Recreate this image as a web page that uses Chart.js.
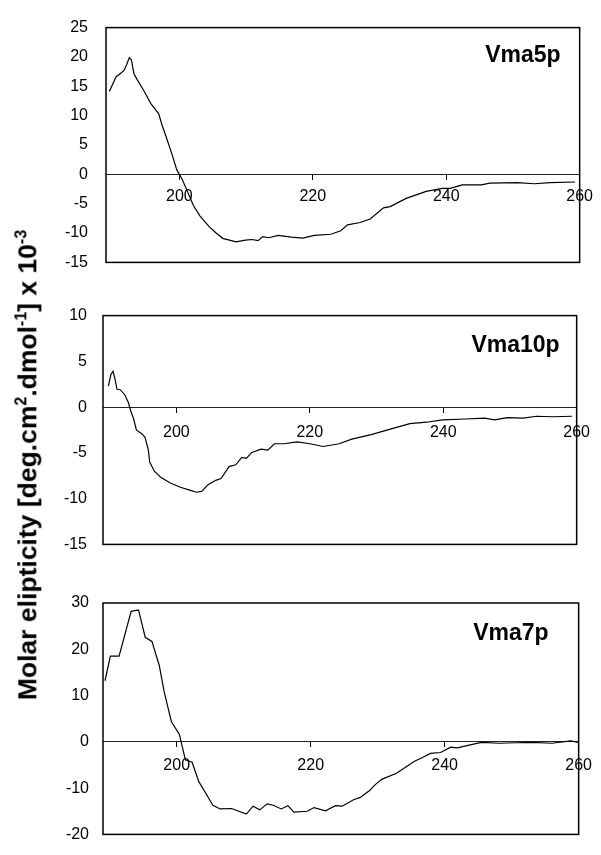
<!DOCTYPE html>
<html lang="en">
<head>
<meta charset="UTF-8">
<title>CD spectra</title>
<script src="https://cdn.jsdelivr.net/npm/chart.js"></script>
<style>
  body { margin: 0; width: 601px; height: 855px; background: #fff; position: relative; overflow: hidden;
         font-family: "Liberation Sans", Arial, sans-serif; }
  .panel { position: absolute; left: 0; width: 601px; }
  #ytitle { position: absolute; left: 27px; top: 465px; transform: translate(-50%, -50%) rotate(-90deg);
            white-space: nowrap; font-weight: bold; font-size: 26.5px; color: #000; line-height: 1; }
  #ytitle sup { font-size: 16px; }
</style>
</head>
<body>
<div class="panel" style="top:0;height:290px"><canvas id="c1"></canvas></div>
<div class="panel" style="top:290px;height:280px"><canvas id="c2"></canvas></div>
<div class="panel" style="top:570px;height:288px"><canvas id="c3"></canvas></div>
<div id="ytitle">Molar elipticity [deg.cm<sup>2</sup>.dmol<sup>-1</sup>] x 10<sup>-3</sup></div>

<script>
// wavelength (nm) and ellipticity
const wl5 = [189.5, 190.5, 191.3, 191.7, 192.1, 192.5, 192.8, 193.2, 193.7, 194.7, 195.7, 196.9, 197.4, 198.1, 198.9, 199.6,
  200.4, 201.2, 202.1, 203.1, 204.5, 205.5, 206.5, 208.5, 209.9, 210.9, 211.8, 212.5, 213.4, 214.8, 216.8, 218.5,
  220.2, 222.7, 224.2, 225.2, 227.1, 228.6, 230.6, 231.6, 234.0, 237.0, 239.4, 240.6, 242.4, 245.3, 246.5, 250.7,
  253.2, 255.6, 259.3];
const cd5 = [14.1, 16.6, 17.3, 17.7, 18.7, 19.9, 19.5, 17.1, 16.1, 14.2, 12.1, 10.3, 8.4, 6.1, 3.4, 0.8,
  -0.8, -2.9, -5.3, -7.1, -8.95, -10.0, -10.9, -11.5, -11.2, -11.1, -11.3, -10.6, -10.8, -10.4, -10.7, -10.85,
  -10.4, -10.2, -9.6, -8.6, -8.2, -7.6, -5.7, -5.5, -4.1, -2.9, -2.4, -2.4, -1.8, -1.8, -1.5, -1.4,
  -1.6, -1.4, -1.3];

const wl10 = [189.8, 190.2, 190.5, 190.8, 191.1, 191.6, 192.3, 192.8, 193.2, 193.6, 194.0, 194.8, 195.3, 195.8, 196.0, 196.7,
  197.7, 199.1, 200.6, 202.1, 203.0, 203.8, 204.7, 205.9, 206.7, 207.9, 208.9, 209.8, 210.5, 211.3, 212.7, 213.7,
  214.7, 216.1, 218.1, 220.0, 222.0, 224.4, 226.3, 229.2, 232.6, 235.0, 237.5, 239.9, 243.3, 246.2, 247.7, 249.6,
  252.0, 254.0, 256.4, 259.3];
const cd10 = [2.3, 3.6, 3.9, 3.05, 1.95, 1.9, 1.3, 0.5, -0.5, -1.3, -2.5, -2.9, -3.3, -4.7, -6.0, -7.0,
  -7.7, -8.3, -8.75, -9.1, -9.3, -9.2, -8.5, -8.0, -7.8, -6.5, -6.3, -5.5, -5.6, -4.95, -4.6, -4.7,
  -4.0, -4.0, -3.8, -4.0, -4.3, -4.0, -3.5, -3.0, -2.3, -1.8, -1.65, -1.4, -1.3, -1.2, -1.4, -1.15,
  -1.2, -1.0, -1.05, -1.0];

const wl7 = [189.3, 190.1, 191.4, 193.2, 194.3, 195.3, 196.3, 197.4, 198.1, 199.2, 200.4, 201.3, 202.3, 203.3, 204.3, 205.4,
  206.5, 208.2, 210.4, 211.4, 212.4, 213.5, 214.4, 215.6, 216.6, 217.5, 219.5, 220.5, 222.2, 223.7, 224.7, 226.4,
  227.4, 228.8, 229.6, 230.6, 232.8, 235.5, 236.7, 237.9, 239.4, 240.9, 241.9, 244.3, 245.5, 248.2, 250.7, 253.1,
  256.0, 258.8, 260.0];
const cd7 = [13.2, 18.5, 18.5, 28.2, 28.5, 22.6, 21.7, 16.5, 11.0, 4.4, 1.6, -3.9, -4.4, -8.6, -11.0, -13.7,
  -14.5, -14.4, -15.6, -13.9, -14.7, -13.4, -13.7, -14.5, -13.8, -15.2, -15.0, -14.2, -14.9, -13.8, -13.9, -12.5,
  -12.0, -10.5, -9.3, -8.1, -6.8, -4.2, -3.4, -2.5, -2.3, -1.15, -1.3, -0.5, -0.1, -0.3, -0.2, -0.1,
  -0.3, 0.2, -0.1];

const xTicks = [200, 220, 240, 260];
const yTicks5 = [-15, -10, -5, 0, 5, 10, 15, 20, 25];
const yTicks10 = [-15, -10, -5, 0, 5, 10];
const yTicks7 = [-20, -10, 0, 10, 20, 30];

const tickFont = { family: '"Liberation Sans", Arial, sans-serif', size: 16 };

// box around the plot area + protein name in the upper right corner
const framePlugin = {
  id: 'frame',
  afterDraw(chart, args, opts) {
    const { ctx, chartArea: a } = chart;
    ctx.save();
    ctx.strokeStyle = '#000';
    ctx.lineWidth = 1.5;
    ctx.strokeRect(a.left, a.top, a.right - a.left, a.bottom - a.top);
    ctx.fillStyle = '#000';
    ctx.font = 'bold 23px "Liberation Sans", Arial, sans-serif';
    ctx.textAlign = 'right';
    ctx.textBaseline = 'alphabetic';
    ctx.fillText(opts.text, a.right - opts.dx, a.top + opts.dy);
    ctx.restore();
  }
};

function makePanel(id, wl, cd, yTicks, p) {
  new Chart(document.getElementById(id), {
    type: 'line',
    data: {
      datasets: [{
        data: wl.map((x, i) => ({ x: x, y: cd[i] })),
        borderColor: '#000',
        borderWidth: 1.2,
        pointRadius: 0,
        tension: 0,
        fill: false
      }]
    },
    options: {
      responsive: true,
      maintainAspectRatio: false,
      animation: false,
      layout: { padding: { left: 0, right: p.padR, top: p.padT, bottom: p.padB } },
      plugins: {
        legend: { display: false },
        tooltip: { enabled: false },
        frame: { text: p.label, dx: p.labelDx, dy: p.labelDy }
      },
      scales: {
        x: {
          type: 'linear',
          position: { y: 0 },
          min: 189,
          max: 260,
          afterBuildTicks: s => { s.ticks = xTicks.map(v => ({ value: v })); },
          grid: { display: true, drawOnChartArea: false, drawTicks: true, tickLength: 5, color: '#000' },
          border: { display: true, color: '#222', width: 1 },
          ticks: { color: '#000', font: tickFont, padding: p.xPad, maxRotation: 0 }
        },
        y: {
          min: yTicks[0],
          max: yTicks[yTicks.length - 1],
          afterBuildTicks: s => { s.ticks = yTicks.map(v => ({ value: v })); },
          afterFit: s => { s.width = p.left; },
          grid: { display: false, drawTicks: false },
          border: { display: false },
          ticks: { color: '#000', font: tickFont, padding: p.yPad }
        }
      }
    },
    plugins: [framePlugin]
  });
}

makePanel('c1', wl5, cd5, yTicks5, { left: 106, padR: 15, padT: 19, padB: 18, xPad: 8, yPad: 18, label: 'Vma5p', labelDx: 19, labelDy: 34 });
makePanel('c2', wl10, cd10, yTicks10, { left: 103, padR: 14, padT: 17, padB: 14, xPad: 11, yPad: 16, label: 'Vma10p', labelDx: 17, labelDy: 36 });
makePanel('c3', wl7, cd7, yTicks7, { left: 103, padR: 13, padT: 33, padB: 9, xPad: 9, yPad: 14, label: 'Vma7p', labelDx: 30, labelDy: 37 });
</script>
</body>
</html>
